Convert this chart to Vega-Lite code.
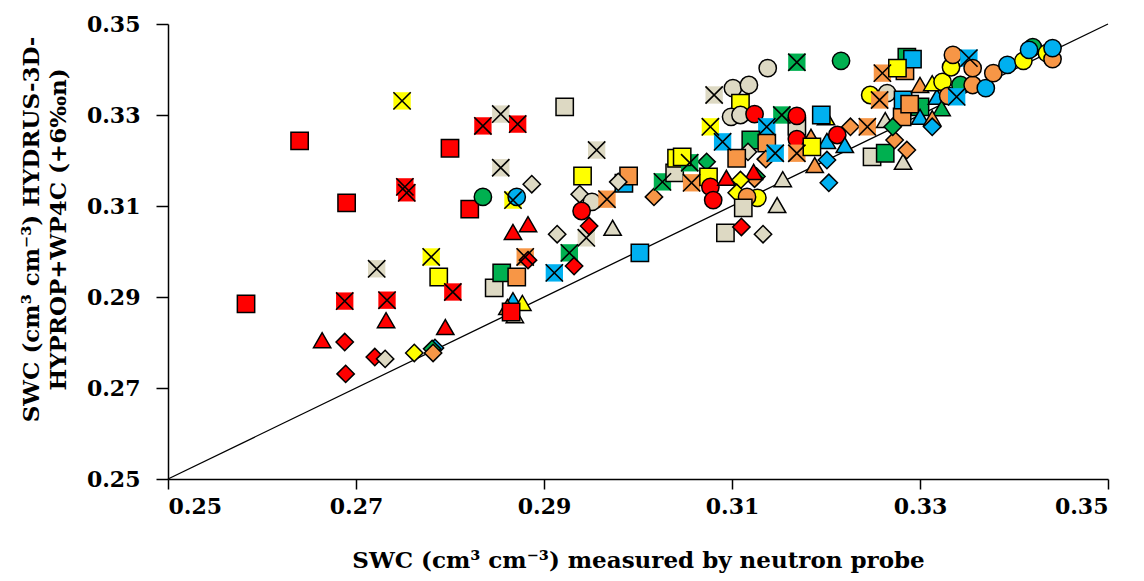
{
"$schema": "https://vega.github.io/schema/vega-lite/v6.json",
"width": 940, "height": 455,
"autosize": "none",
"padding": {"left": 168, "top": 24, "right": 36, "bottom": 102},
"background": "white",
"config": {"view": {"stroke": null}, "font": "DejaVu Serif"},
"datasets": {
"line": [{"v": 0.25}, {"v": 0.35}],
"pts": [
{"c":"R","m":"s","x":0.2583,"y":0.2885},
{"c":"R","m":"s","x":0.2640,"y":0.3243},
{"c":"R","m":"s","x":0.2690,"y":0.3107},
{"c":"R","m":"x","x":0.2688,"y":0.2891},
{"c":"R","m":"t","x":0.2664,"y":0.2805},
{"c":"R","m":"d","x":0.2688,"y":0.2801},
{"c":"R","m":"d","x":0.2689,"y":0.2731},
{"c":"T","m":"x","x":0.2722,"y":0.2962},
{"c":"R","m":"d","x":0.2720,"y":0.2768},
{"c":"T","m":"d","x":0.2731,"y":0.2764},
{"c":"R","m":"x","x":0.2733,"y":0.2893},
{"c":"R","m":"t","x":0.2732,"y":0.2849},
{"c":"R","m":"x","x":0.2752,"y":0.3142},
{"c":"R","m":"x","x":0.2754,"y":0.3129},
{"c":"Y","m":"x","x":0.2749,"y":0.3331},
{"c":"Y","m":"x","x":0.2780,"y":0.2988},
{"c":"Y","m":"s","x":0.2788,"y":0.2944},
{"c":"Y","m":"d","x":0.2762,"y":0.2777},
{"c":"B","m":"d","x":0.2784,"y":0.2788},
{"c":"G","m":"d","x":0.2781,"y":0.2786},
{"c":"O","m":"d","x":0.2782,"y":0.2777},
{"c":"R","m":"t","x":0.2795,"y":0.2834},
{"c":"R","m":"x","x":0.2803,"y":0.2911},
{"c":"R","m":"s","x":0.2800,"y":0.3227},
{"c":"R","m":"s","x":0.2821,"y":0.3093},
{"c":"R","m":"x","x":0.2835,"y":0.3276},
{"c":"G","m":"c","x":0.2835,"y":0.3120},
{"c":"T","m":"x","x":0.2854,"y":0.3302},
{"c":"T","m":"x","x":0.2854,"y":0.3184},
{"c":"R","m":"x","x":0.2872,"y":0.3280},
{"c":"T","m":"s","x":0.2847,"y":0.2920},
{"c":"G","m":"s","x":0.2855,"y":0.2953},
{"c":"O","m":"s","x":0.2871,"y":0.2944},
{"c":"B","m":"t","x":0.2867,"y":0.2893},
{"c":"O","m":"t","x":0.2861,"y":0.2878},
{"c":"Y","m":"t","x":0.2877,"y":0.2887},
{"c":"T","m":"t","x":0.2869,"y":0.2860},
{"c":"R","m":"s","x":0.2865,"y":0.2867},
{"c":"Y","m":"x","x":0.2867,"y":0.3113},
{"c":"B","m":"c","x":0.2871,"y":0.3120},
{"c":"T","m":"d","x":0.2887,"y":0.3148},
{"c":"R","m":"t","x":0.2867,"y":0.3043},
{"c":"R","m":"t","x":0.2883,"y":0.3060},
{"c":"O","m":"x","x":0.2880,"y":0.2988},
{"c":"R","m":"d","x":0.2883,"y":0.2981},
{"c":"T","m":"d","x":0.2914,"y":0.3038},
{"c":"G","m":"x","x":0.2927,"y":0.2997},
{"c":"R","m":"d","x":0.2932,"y":0.2968},
{"c":"B","m":"x","x":0.2911,"y":0.2953},
{"c":"T","m":"x","x":0.2945,"y":0.3030},
{"c":"T","m":"d","x":0.2938,"y":0.3126},
{"c":"T","m":"c","x":0.2951,"y":0.3109},
{"c":"R","m":"c","x":0.2940,"y":0.3089},
{"c":"R","m":"d","x":0.2948,"y":0.3056},
{"c":"Y","m":"s","x":0.2941,"y":0.3166},
{"c":"T","m":"x","x":0.2956,"y":0.3223},
{"c":"T","m":"s","x":0.2922,"y":0.3318},
{"c":"T","m":"t","x":0.2973,"y":0.3052},
{"c":"O","m":"x","x":0.2967,"y":0.3115},
{"c":"B","m":"s","x":0.2985,"y":0.3150},
{"c":"O","m":"s","x":0.2990,"y":0.3166},
{"c":"T","m":"d","x":0.2979,"y":0.3153},
{"c":"B","m":"s","x":0.3002,"y":0.2997},
{"c":"O","m":"d","x":0.3017,"y":0.3120},
{"c":"G","m":"x","x":0.3026,"y":0.3153},
{"c":"T","m":"s","x":0.3039,"y":0.3173},
{"c":"Y","m":"s","x":0.3041,"y":0.3205},
{"c":"T","m":"c","x":0.3138,"y":0.3403},
{"c":"G","m":"x","x":0.3169,"y":0.3416},
{"c":"G","m":"c","x":0.3216,"y":0.3419},
{"c":"T","m":"x","x":0.3081,"y":0.3344},
{"c":"T","m":"c","x":0.3101,"y":0.3359},
{"c":"T","m":"c","x":0.3118,"y":0.3366},
{"c":"Y","m":"s","x":0.3109,"y":0.3326},
{"c":"T","m":"c","x":0.3099,"y":0.3296},
{"c":"T","m":"c","x":0.3109,"y":0.3300},
{"c":"R","m":"c","x":0.3124,"y":0.3302},
{"c":"G","m":"x","x":0.3153,"y":0.3300},
{"c":"T","m":"s","x":0.3169,"y":0.3275},
{"c":"R","m":"c","x":0.3169,"y":0.3298},
{"c":"Y","m":"t","x":0.3200,"y":0.3295},
{"c":"B","m":"s","x":0.3195,"y":0.3300},
{"c":"Y","m":"x","x":0.3077,"y":0.3274},
{"c":"B","m":"x","x":0.3137,"y":0.3274},
{"c":"R","m":"c","x":0.3169,"y":0.3247},
{"c":"O","m":"t","x":0.3184,"y":0.3252},
{"c":"B","m":"t","x":0.3201,"y":0.3243},
{"c":"R","m":"c","x":0.3212,"y":0.3256},
{"c":"B","m":"t","x":0.3220,"y":0.3234},
{"c":"O","m":"d","x":0.3226,"y":0.3274},
{"c":"O","m":"x","x":0.3244,"y":0.3274},
{"c":"T","m":"t","x":0.3263,"y":0.3289},
{"c":"O","m":"s","x":0.3281,"y":0.3296},
{"c":"O","m":"x","x":0.3260,"y":0.3392},
{"c":"O","m":"s","x":0.3284,"y":0.3397},
{"c":"Y","m":"c","x":0.3247,"y":0.3344},
{"c":"T","m":"c","x":0.3265,"y":0.3348},
{"c":"O","m":"x","x":0.3257,"y":0.3333},
{"c":"G","m":"s","x":0.3286,"y":0.3427},
{"c":"B","m":"s","x":0.3292,"y":0.3423},
{"c":"B","m":"x","x":0.3090,"y":0.3241},
{"c":"G","m":"s","x":0.3120,"y":0.3245},
{"c":"O","m":"s","x":0.3137,"y":0.3238},
{"c":"T","m":"d","x":0.3117,"y":0.3219},
{"c":"O","m":"s","x":0.3105,"y":0.3205},
{"c":"O","m":"d","x":0.3136,"y":0.3203},
{"c":"B","m":"x","x":0.3146,"y":0.3216},
{"c":"O","m":"x","x":0.3169,"y":0.3216},
{"c":"Y","m":"s","x":0.3185,"y":0.3230},
{"c":"O","m":"t","x":0.3188,"y":0.3190},
{"c":"B","m":"d","x":0.3201,"y":0.3201},
{"c":"B","m":"d","x":0.3203,"y":0.3151},
{"c":"T","m":"s","x":0.3249,"y":0.3208},
{"c":"G","m":"s","x":0.3263,"y":0.3216},
{"c":"O","m":"d","x":0.3273,"y":0.3245},
{"c":"T","m":"t","x":0.3282,"y":0.3197},
{"c":"G","m":"d","x":0.3073,"y":0.3197},
{"c":"G","m":"x","x":0.3055,"y":0.3195},
{"c":"O","m":"x","x":0.3057,"y":0.3151},
{"c":"Y","m":"s","x":0.3047,"y":0.3208},
{"c":"Y","m":"s","x":0.3075,"y":0.3164},
{"c":"R","m":"c","x":0.3077,"y":0.3142},
{"c":"R","m":"c","x":0.3080,"y":0.3113},
{"c":"R","m":"t","x":0.3094,"y":0.3162},
{"c":"G","m":"d","x":0.3126,"y":0.3165},
{"c":"O","m":"d","x":0.3124,"y":0.3160},
{"c":"R","m":"t","x":0.3123,"y":0.3175},
{"c":"Y","m":"d","x":0.3109,"y":0.3157},
{"c":"Y","m":"d","x":0.3105,"y":0.3129},
{"c":"Y","m":"c","x":0.3127,"y":0.3118},
{"c":"O","m":"c","x":0.3116,"y":0.3120},
{"c":"T","m":"t","x":0.3154,"y":0.3159},
{"c":"T","m":"s","x":0.3112,"y":0.3096},
{"c":"T","m":"t","x":0.3148,"y":0.3102},
{"c":"T","m":"s","x":0.3093,"y":0.3041},
{"c":"R","m":"d","x":0.3110,"y":0.3054},
{"c":"T","m":"d","x":0.3133,"y":0.3038},
{"c":"O","m":"d","x":0.3286,"y":0.3223},
{"c":"G","m":"s","x":0.3300,"y":0.3318},
{"c":"B","m":"s","x":0.3282,"y":0.3333},
{"c":"O","m":"s","x":0.3289,"y":0.3324},
{"c":"O","m":"t","x":0.3300,"y":0.3366},
{"c":"B","m":"t","x":0.3318,"y":0.3340},
{"c":"B","m":"t","x":0.3300,"y":0.3296},
{"c":"G","m":"t","x":0.3323,"y":0.3315},
{"c":"O","m":"t","x":0.3313,"y":0.3293},
{"c":"B","m":"d","x":0.3313,"y":0.3274},
{"c":"G","m":"d","x":0.3271,"y":0.3274},
{"c":"Y","m":"s","x":0.3276,"y":0.3403},
{"c":"Y","m":"t","x":0.3313,"y":0.3370},
{"c":"Y","m":"c","x":0.3324,"y":0.3373},
{"c":"G","m":"c","x":0.3343,"y":0.3366},
{"c":"O","m":"c","x":0.3330,"y":0.3342},
{"c":"B","m":"x","x":0.3339,"y":0.3340},
{"c":"O","m":"c","x":0.3356,"y":0.3366},
{"c":"B","m":"c","x":0.3370,"y":0.3359},
{"c":"Y","m":"c","x":0.3333,"y":0.3405},
{"c":"O","m":"c","x":0.3335,"y":0.3432},
{"c":"B","m":"x","x":0.3352,"y":0.3425},
{"c":"O","m":"c","x":0.3356,"y":0.3403},
{"c":"O","m":"c","x":0.3378,"y":0.3392},
{"c":"B","m":"c","x":0.3393,"y":0.3410},
{"c":"Y","m":"c","x":0.3410,"y":0.3419},
{"c":"G","m":"c","x":0.3420,"y":0.3449},
{"c":"B","m":"c","x":0.3416,"y":0.3443},
{"c":"Y","m":"c","x":0.3435,"y":0.3436},
{"c":"O","m":"c","x":0.3441,"y":0.3423},
{"c":"B","m":"c","x":0.3441,"y":0.3447}
]
},
"layer": [
{
"data": {"name": "line"},
"mark": {"type": "line", "color": "black", "strokeWidth": 1.3},
"encoding": {
"x": {"field": "v", "type": "quantitative",
"scale": {"domain": [0.25, 0.35], "nice": false, "zero": false},
"axis": {"values": [0.25, 0.27, 0.29, 0.31, 0.33, 0.35], "format": ".2f", "grid": false,
"domainColor": "black", "domainWidth": 1.5, "tickColor": "black", "tickWidth": 1.5, "tickSize": 10,
"labelFont": "DejaVu Serif", "labelFontSize": 22, "labelFontWeight": "bold", "labelColor": "black", "labelPadding": 7,
"title": "SWC (cm³ cm⁻³) measured by neutron probe", "titleFont": "DejaVu Serif", "titleFontSize": 23, "titleFontWeight": "bold", "titleColor": "black",
"titleBaseline": "middle", "titleY": 81}},
"y": {"field": "v", "type": "quantitative",
"scale": {"domain": [0.25, 0.35], "nice": false, "zero": false},
"axis": {"values": [0.25, 0.27, 0.29, 0.31, 0.33, 0.35], "format": ".2f", "grid": false,
"domainColor": "black", "domainWidth": 1.5, "tickColor": "black", "tickWidth": 1.5, "tickSize": 12,
"labelFont": "DejaVu Serif", "labelFontSize": 22, "labelFontWeight": "bold", "labelColor": "black", "labelPadding": 16,
"title": ["SWC (cm³ cm⁻³) HYDRUS-3D-", "HYPROP+WP4C (+6‰n)"], "titleFont": "DejaVu Serif", "titleFontSize": 23, "titleFontWeight": "bold", "titleColor": "black",
"titleLineHeight": 27, "titleAngle": -90, "titleBaseline": "top", "titleAlign": "center", "titleX": -148, "titleY": 205}}
}
},
{
"data": {"name": "pts"},
"mark": {"type": "point", "filled": true, "size": 300, "stroke": "black", "opacity": 1},
"encoding": {
"x": {"field": "x", "type": "quantitative"},
"y": {"field": "y", "type": "quantitative"},
"fill": {"field": "c", "type": "nominal", "legend": null,
"scale": {"domain": ["R", "G", "Y", "B", "O", "T"], "range": ["#FF0000", "#00B050", "#FFFF00", "#00B0F0", "#F79646", "#DDD9C3"]}},
"shape": {"field": "m", "type": "nominal", "legend": null,
"scale": {"domain": ["s", "c", "t", "d", "x"], "range": ["square", "circle", "triangle-up", "diamond", "square"]}},
"strokeWidth": {"condition": {"test": "datum.m === 'x'", "value": 0}, "value": 1.5}
}
},
{
"data": {"name": "pts"},
"transform": [{"filter": "datum.m === 'x'"}],
"mark": {"type": "point", "shape": "M-1,-1L1,1M-1,1L1,-1", "filled": false, "size": 300, "stroke": "black", "strokeWidth": 1.6, "opacity": 1},
"encoding": {
"x": {"field": "x", "type": "quantitative"},
"y": {"field": "y", "type": "quantitative"}
}
}
]
}
